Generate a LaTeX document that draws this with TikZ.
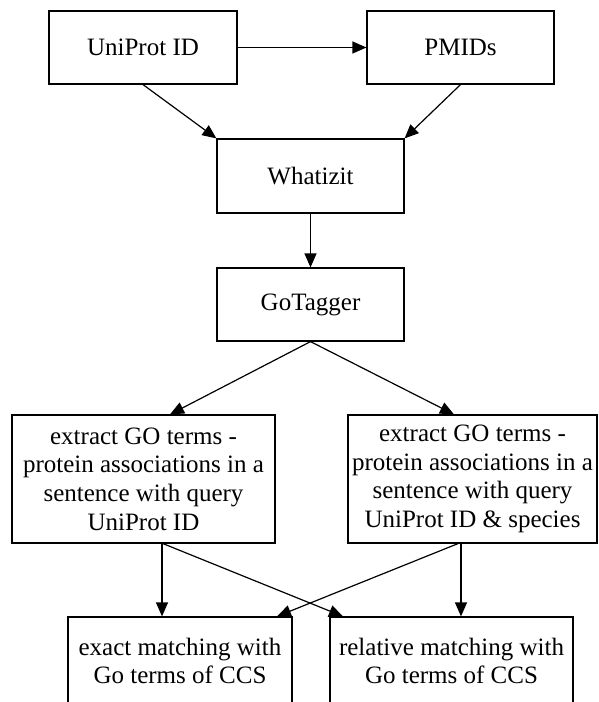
\documentclass[tikz,border=0pt]{standalone}
\usepackage{fontspec}
\setmainfont{Liberation Serif}
\usetikzlibrary{arrows.meta}

\begin{document}
\begin{tikzpicture}[x=1pt, y=-1pt,
    box/.style={draw, line width=1.2pt, align=center, inner sep=2pt,
        font=\fontsize{25}{28.7}\selectfont},
    arr/.style={-{Triangle[length=14pt, width=12pt]}, line width=1.2pt}]

    \useasboundingbox (0,0) rectangle (599,702);
    \clip (0,0) rectangle (599,702);

    % Boxes
    \node[box, minimum width=188, minimum height=73] (uni) at (143,47.5) {UniProt ID};
    \node[box, minimum width=187, minimum height=73] (pmid) at (460.5,47.5) {PMIDs};
    \node[box, minimum width=187, minimum height=74] (what) at (310.5,176) {Whatizit};
    \node[box, minimum width=187, minimum height=73] (gotag) at (310.5,304.5) {GoTagger};
    \node[box, minimum width=263, minimum height=128] (ex1) at (143.5,479)
        {extract GO terms -\\protein associations in a\\sentence with query\\UniProt ID};
    \node[box, minimum width=249, minimum height=128] (ex2) at (472.5,479)
        {extract GO terms -\\protein associations in a\\sentence with query\\UniProt ID \& species};
    \node[box, minimum width=224, minimum height=88] (exact) at (180,661)
        {exact matching with\\Go terms of CCS};
    \node[box, minimum width=243, minimum height=88] (rel) at (451.5,661)
        {relative matching with\\Go terms of CCS};

    % Arrows
    \draw[arr] (uni) -- (pmid);
    \draw[arr] (uni.south) -- (what.north west);
    \draw[arr] (pmid.south) -- (what.north east);
    \draw[arr] (what) -- (gotag);
    \draw[arr] (gotag.south) -- ([xshift=26.5]ex1.north);
    \draw[arr] (gotag.south) -- ([xshift=-18.5]ex2.north);
    \draw[arr] ([xshift=18.5]ex1.south) coordinate (d1) -- (d1 |- exact.north);
    \draw[arr] ([xshift=19.5]ex1.south) -- ([xshift=-108.5]rel.north);
    \draw[arr] ([xshift=-11.5]ex2.south) coordinate (d2) -- (d2 |- rel.north);
    \draw[arr] ([xshift=-14.5]ex2.south) -- ([xshift=97]exact.north);

\end{tikzpicture}
\end{document}
